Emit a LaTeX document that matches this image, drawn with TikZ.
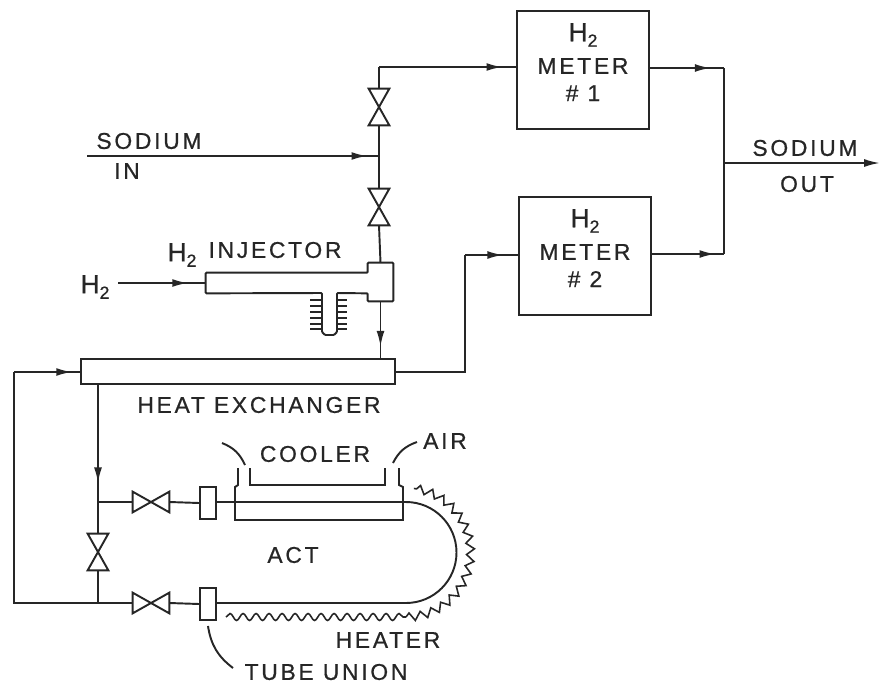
\documentclass[tikz,border=0pt]{standalone}
\usepackage{fontspec}
\setmainfont[LetterSpace=12,FakeBold=0.7]{Liberation Sans}
\usepackage{tikz}
\usetikzlibrary{arrows.meta,decorations.markings,decorations.pathmorphing}
\newcommand{\Htwo}{{\fontsize{15}{17}\selectfont H}\raisebox{-0.45ex}{\fontsize{10}{12}\selectfont 2}}
\def\px{0.02cm}
\tikzset{
	pipe/.style={draw=black!85,line width=1.1pt},
	flow/.style={pipe,postaction={decorate},decoration={markings,mark=at position #1 with {\arrow{Latex[length=9pt,width=4.5pt]}}}},
	label text/.style={text=black!85,font=\fontsize{13}{15.5}\selectfont,align=center,inner sep=0pt},
	meterbox/.style={pipe,label text,minimum width=132*\px,minimum height=118*\px},
	pipebox/.style={pipe,inner sep=0pt},
	hvalve/.style={inner sep=0pt,minimum width=36*\px,minimum height=20*\px},
	vvalve/.style={inner sep=0pt,minimum width=20*\px,minimum height=36*\px},
}
\begin{document}
\begin{tikzpicture}[x=0.02cm,y=-0.02cm]
\useasboundingbox (0,0) rectangle (880,684);

%meters
\node[meterbox](meter1) at (583,70) {\Htwo\\[3pt]METER\\\# 1\rule[-9pt]{0pt}{9pt}};
\node[meterbox](meter2) at (585,256) {\Htwo\\[3pt]METER\\\# 2\rule[-9pt]{0pt}{9pt}};

%valves
\node[vvalve](vtop) at (379,107) {};
\node[vvalve](vmid) at (379,207) {};
\node[vvalve](vlow) at (98,552) {};
\node[hvalve](vcold) at (151,502) {};
\node[hvalve](vhot) at (151,603) {};
\foreach \x in {vtop,vmid,vlow}{
	\draw[pipe] (\x.north west) -- (\x.north east) -- (\x.south west) -- (\x.south east) -- cycle;
}
\foreach \x in {vcold,vhot}{
	\draw[pipe] (\x.north west) -- (\x.south west) -- (\x.north east) -- (\x.south east) -- cycle;
}

%heat exchanger and tube unions
\node[pipebox,minimum width=314*\px,minimum height=25*\px](exchanger) at (238,371.5) {};
\node[pipebox,minimum width=16*\px,minimum height=32*\px](union1) at (208,503) {};
\node[pipebox,minimum width=16*\px,minimum height=32*\px](union2) at (208,604) {};

%injector, fins first so that the stem covers them
\foreach \y in {300,306,312,318,324,329}{
	\draw[pipe,line width=0.7pt] (310,\y) -- (347,\y);
}
\node[inner sep=0pt,minimum width=162*\px,minimum height=20*\px](injbody) at (287,283) {};
\node[inner sep=0pt,minimum width=25*\px,minimum height=38*\px](injhead) at (380.5,282) {};
\draw[pipe,fill=white,rounded corners=0.5pt] (injhead.south west) -- (injhead.south east) -- (injhead.north east) -- (injhead.north west)
	-- (injhead.north west |- injbody.north) -- (injbody.north west) -- (injbody.south west)
	-- (322,293) -- (322,332) -- (325,335) -- (334,335) -- (337,332) -- (337,293)
	-- (injhead.west |- injbody.south) -- cycle;

%coordinates where the lines meet
\coordinate(top) at (379,67);
\coordinate(sodiumin) at (87,156);
\coordinate(tee) at (379,156);
\coordinate(h2in) at (118,283);
\coordinate(exit1) at (465,372);
\coordinate(exit2) at (465,255);
\coordinate(out1) at (724,68);
\coordinate(out2) at (724,254);
\coordinate(outj) at (724,163);
\coordinate(sodiumout) at (880,163);
\coordinate(back1) at (14,372);
\coordinate(back2) at (14,603);
\coordinate(split1) at (98,502);
\coordinate(split2) at (98,603);

%sodium lines
\draw[pipe] (vtop.north) -- (top);
\draw[flow=0.9] (top) -- (meter1.west |- top);
\draw[pipe] (vtop.south) -- (vmid.north);
\draw[flow=0.96] (sodiumin) -- (tee);
\draw[pipe] (vmid.south) -- (injhead.north);
\draw[flow=0.8] (injhead.south) -- (exchanger.north -| injhead.south);
\draw[flow=0.8] (h2in) -- (injbody.west);
\draw[pipe] (exchanger.east |- exit1) -- (exit1) -- (exit2);
\draw[flow=0.72] (exit2) -- (meter2.west |- exit2);
\draw[flow=0.82] (meter1.east |- out1) -- (out1);
\draw[flow=0.88] (meter2.east |- out2) -- (out2);
\draw[pipe] (out1) -- (out2);
\draw[pipe,-{Latex[length=9pt,width=4.5pt]}] (outj) -- (sodiumout);

%return loop
\draw[pipe] (vhot.west) -- (split2) -- (back2) -- (back1);
\draw[flow=0.88] (back1) -- (exchanger.west |- back1);
\draw[flow=0.84] (exchanger.south -| split1) -- (split1);
\draw[pipe] (split1) -- (vlow.north);
\draw[pipe] (vlow.south) -- (split2);
\draw[pipe] (split1) -- (vcold.west);
\draw[pipe] (vcold.east) -- (union1.west);
\draw[pipe] (vhot.east) -- (union2.west);

%test tube with cooler and heater
\draw[pipe] (union1.east |- 0,502) -- (406,502) arc[start angle=90,end angle=-90,radius=50.5*\px] -- (union2.east |- 0,603);
\draw[pipe] (238,468) -- (238,485) -- (235,487) -- (235,520) -- (403,520) -- (403,487) -- (399,485) -- (399,468);
\draw[pipe] (250,468) -- (250,485) -- (385,485) -- (385,468);
\draw[pipe,line width=0.9pt,decorate,decoration={snake,segment length=13*\px,amplitude=3.5*\px}] (226,617) -- (406,617);
\draw[pipe,line width=0.9pt,decorate,decoration={zigzag,segment length=12*\px,amplitude=4*\px}] (406,617) arc[start angle=-90,end angle=83,radius=64.5*\px];

%leaders
\coordinate(airL1) at (245,465);
\coordinate(airL2) at (222,443);
\coordinate(airR1) at (393,463);
\coordinate(airR2) at (417,442);
\coordinate(unionend) at (233,668);
\draw[pipe] (airL1) to[bend right=22] (airL2);
\draw[pipe] (airR1) to[bend left=22] (airR2);
\draw[pipe] (union2.south) ++(0,5) to[bend right=22] (unionend);

%text
\node[label text](sodiuminA) at (149,141) {SODIUM};
\node[label text](sodiuminB) at (127,171) {IN};
\node[label text](sodiumoutA) at (805,148) {SODIUM};
\node[label text](sodiumoutB) at (807,184) {OUT};
\node[label text](h2left) at (95,287) {\Htwo};
\node[label text](h2inj) at (182,255) {\Htwo};
\node[label text](injector) at (275,250) {INJECTOR};
\node[label text](exchangertext) at (259,405) {HEAT EXCHANGER};
\node[label text](coolertext) at (315,454) {COOLER};
\node[label text](airtext) at (445,441) {AIR};
\node[label text](acttext) at (293,555) {ACT};
\node[label text](heatertext) at (388,640) {HEATER};
\node[label text](uniontext) at (326,672) {TUBE UNION};
\end{tikzpicture}
\end{document}
